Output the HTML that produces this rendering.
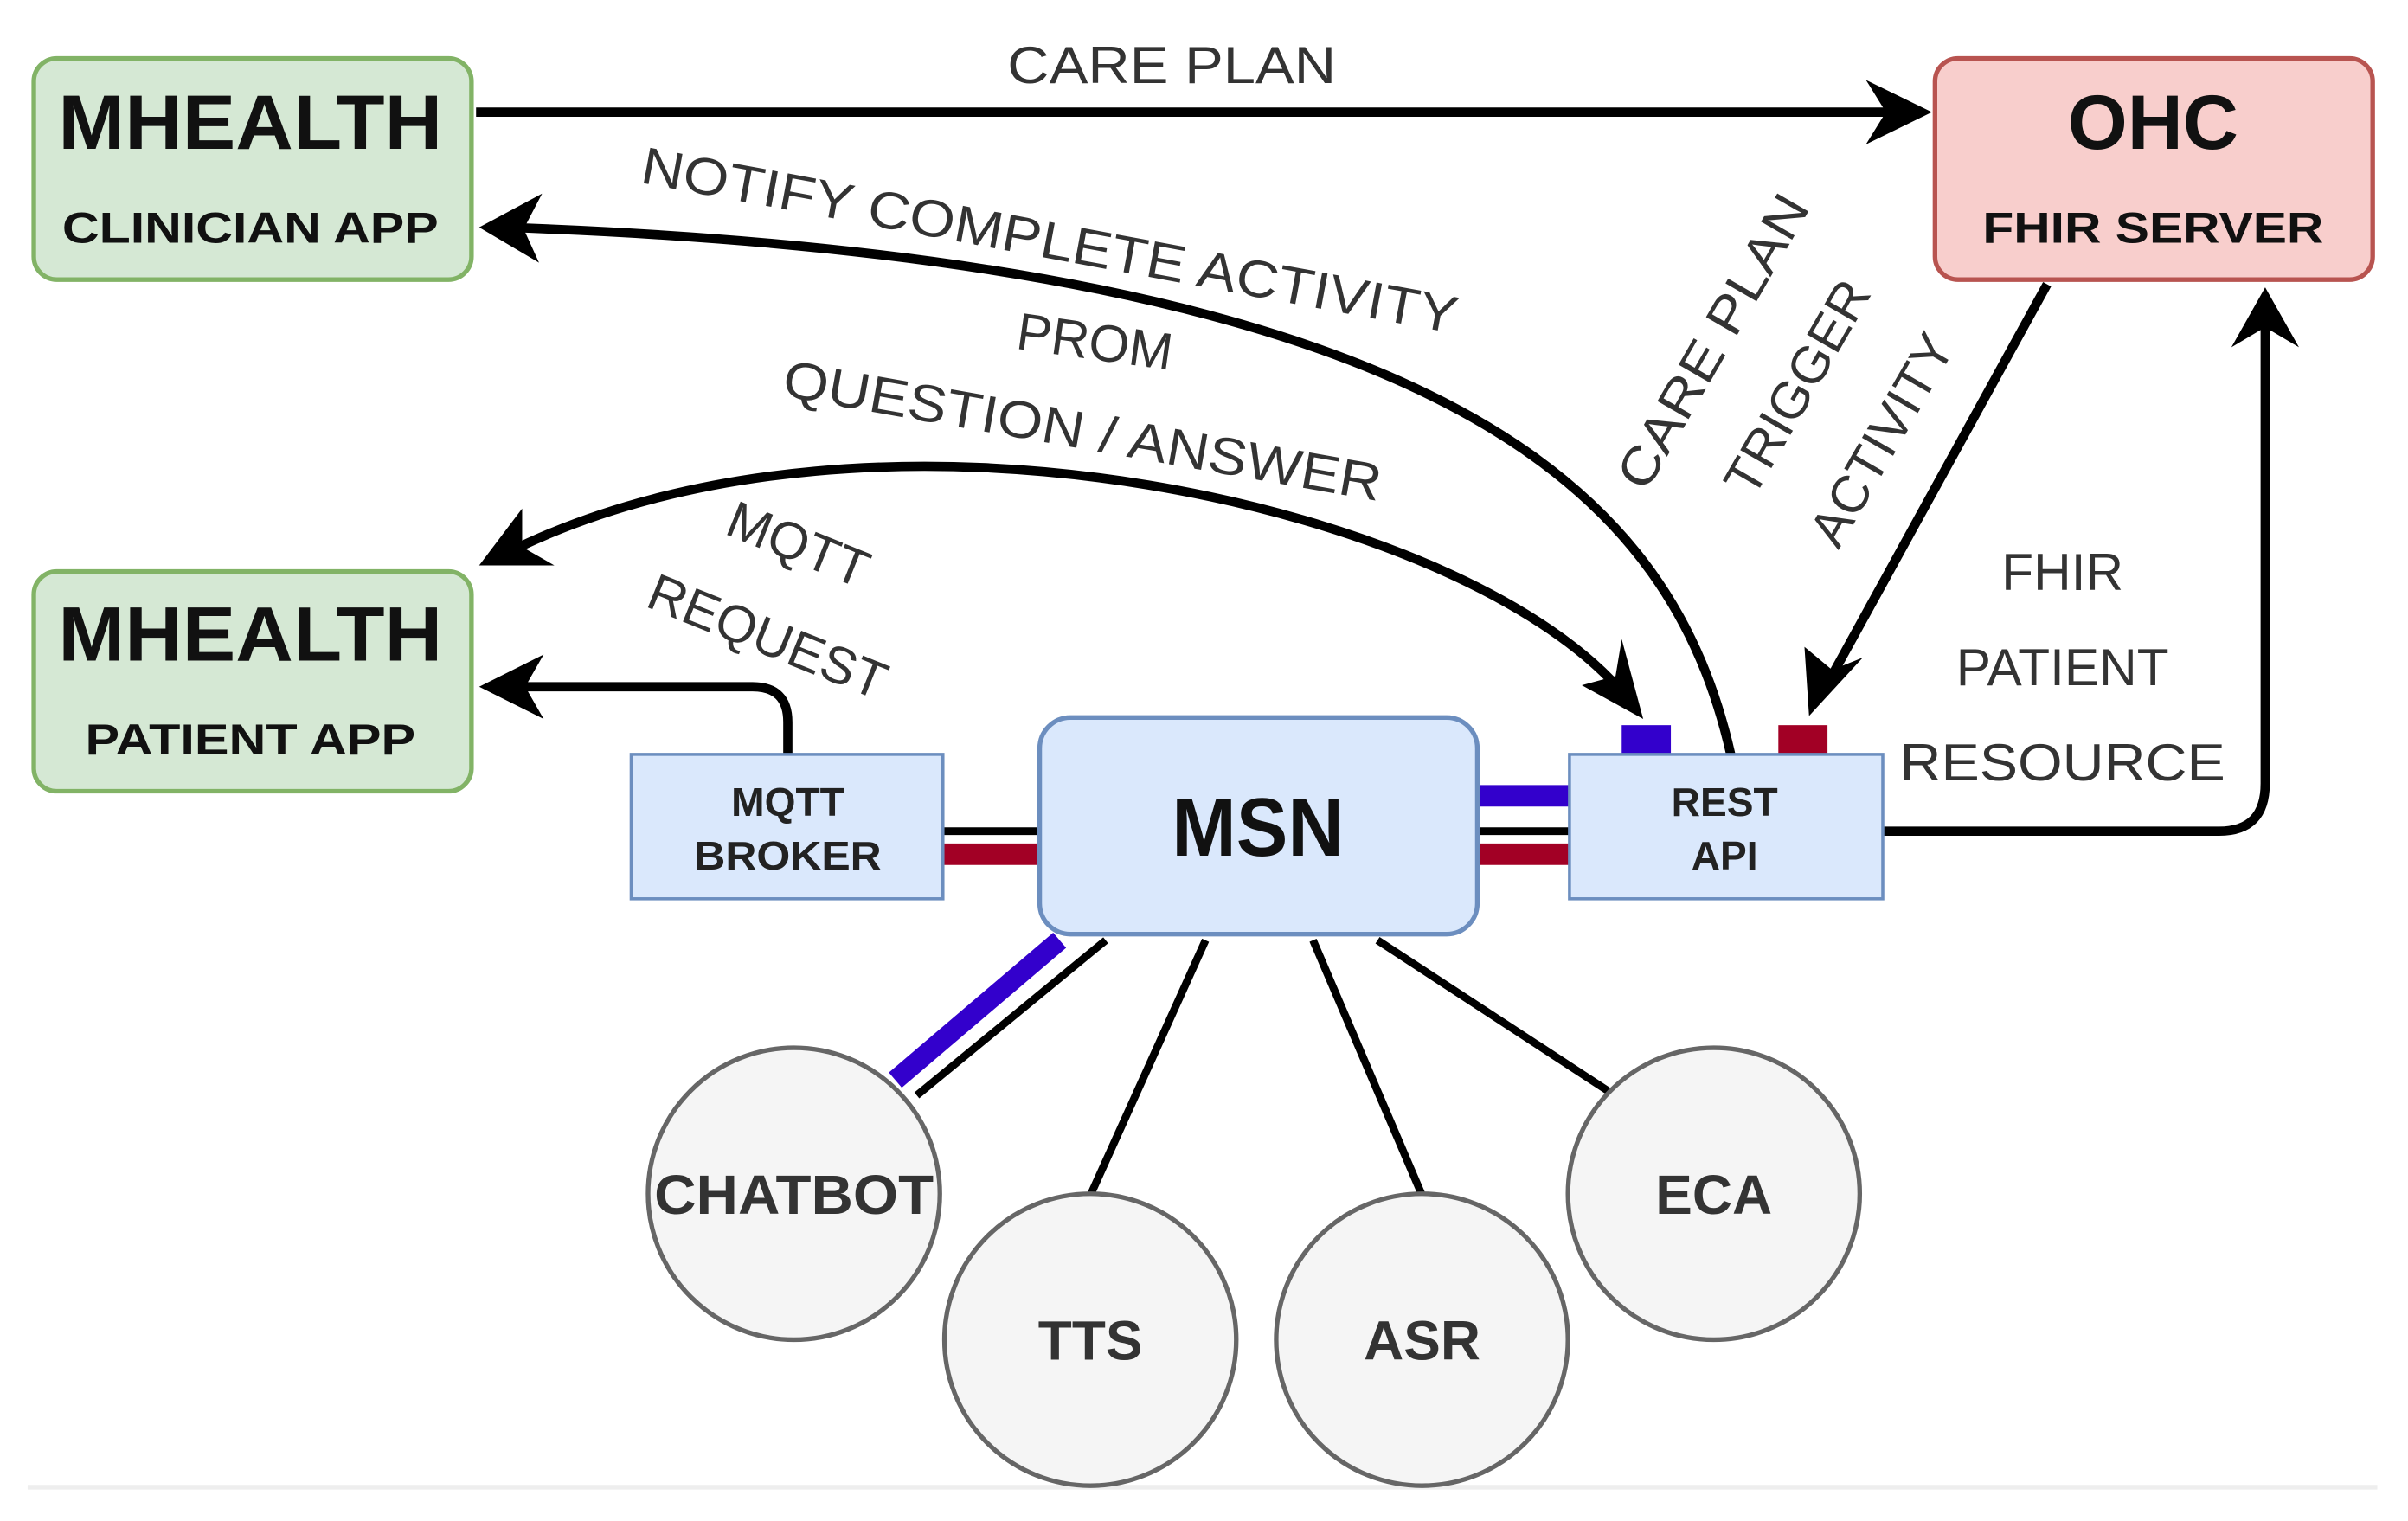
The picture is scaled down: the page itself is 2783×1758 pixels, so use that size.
<!DOCTYPE html>
<html><head><meta charset="utf-8"><style>html,body{margin:0;padding:0;background:#fff}svg{display:block}</style></head>
<body>
<svg width="2783" height="1758" viewBox="0 0 1568 990" preserveAspectRatio="none" xmlns="http://www.w3.org/2000/svg" font-family="Liberation Sans, sans-serif">
<rect width="1568" height="990" fill="#fff"/>
<line x1="18" y1="968" x2="1548" y2="968" stroke="#eee" stroke-width="3"/>

<line x1="690" y1="612" x2="583" y2="703" stroke="#3300cc" stroke-width="13"/>
<line x1="720" y1="612" x2="597" y2="713" stroke="#000" stroke-width="5"/>
<line x1="785" y1="612" x2="710" y2="778" stroke="#000" stroke-width="5"/>
<line x1="855" y1="612" x2="926" y2="778" stroke="#000" stroke-width="5"/>
<line x1="897" y1="612" x2="1050" y2="712" stroke="#000" stroke-width="5"/>

<g fill="#f5f5f5" stroke="#666" stroke-width="3">
<circle cx="517" cy="777" r="95"/>
<circle cx="710" cy="872" r="95"/>
<circle cx="926" cy="872" r="95"/>
<circle cx="1116" cy="777" r="95"/>
</g>
<g font-weight="bold" font-size="36" fill="#333" text-anchor="middle">
<text x="517" y="790" textLength="182" lengthAdjust="spacingAndGlyphs">CHATBOT</text>
<text x="710" y="885">TTS</text>
<text x="926" y="885">ASR</text>
<text x="1116" y="790">ECA</text>
</g>

<line x1="612" y1="541" x2="680" y2="541" stroke="#000" stroke-width="5"/>
<line x1="612" y1="556" x2="680" y2="556" stroke="#a20025" stroke-width="14"/>
<line x1="960" y1="518" x2="1024" y2="518" stroke="#3300cc" stroke-width="14"/>
<line x1="960" y1="541" x2="1024" y2="541" stroke="#000" stroke-width="5"/>
<line x1="960" y1="556" x2="1024" y2="556" stroke="#a20025" stroke-width="14"/>

<rect x="1056" y="472" width="32" height="20" fill="#3300cc"/>
<rect x="1158" y="472" width="32" height="20" fill="#a20025"/>

<g fill="none" stroke="#000" stroke-width="6">
<line x1="310" y1="73" x2="1240" y2="73"/>
<path d="M1127 491 C1090 330 960 170 330 148"/>
<path d="M1060 455 C960 330 570 240 330 360"/>
<path d="M513 491 L513 470 Q513 447 490 447 L330 447"/>
<line x1="1333" y1="185" x2="1190" y2="445"/>
<path d="M1226 541 L1445 541 Q1475 541 1475 510 L1475 205"/>
</g>
<g fill="#000">
<polygon points="1258,73 1215,52 1228,73 1215,94"/>
<polygon points="312,148 353,126 341,149 351,171"/>
<polygon points="312,368 340,331 340,356 361,368"/>
<polygon points="1070,468 1030,446 1052,440 1056,416"/>
<polygon points="312,447 354,426 342,447 354,468"/>
<polygon points="1178,466 1175,421 1193,436 1213,428"/>
<polygon points="1475,187 1453,226 1475,213 1497,226"/>
</g>

<rect x="22" y="38" width="285" height="144" rx="15" fill="#d5e8d4" stroke="#82b366" stroke-width="3"/>
<rect x="1260" y="38" width="285" height="144" rx="15" fill="#f8cecc" stroke="#b85450" stroke-width="3"/>
<rect x="22" y="372" width="285" height="143" rx="15" fill="#d5e8d4" stroke="#82b366" stroke-width="3"/>
<rect x="411" y="491" width="203" height="94" fill="#dae8fc" stroke="#6c8ebf" stroke-width="2"/>
<rect x="677" y="467" width="285" height="141" rx="20" fill="#dae8fc" stroke="#6c8ebf" stroke-width="3"/>
<rect x="1022" y="491" width="204" height="94" fill="#dae8fc" stroke="#6c8ebf" stroke-width="2"/>

<g font-weight="bold" fill="#111" text-anchor="middle">
<text x="163" y="97" font-size="50" textLength="250" lengthAdjust="spacingAndGlyphs">MHEALTH</text>
<text x="163" y="158" font-size="28" textLength="245" lengthAdjust="spacingAndGlyphs">CLINICIAN APP</text>
<text x="1402" y="97" font-size="50">OHC</text>
<text x="1402" y="158" font-size="28" textLength="222" lengthAdjust="spacingAndGlyphs">FHIR SERVER</text>
<text x="163" y="430" font-size="50" textLength="250" lengthAdjust="spacingAndGlyphs">MHEALTH</text>
<text x="163" y="491" font-size="28" textLength="215" lengthAdjust="spacingAndGlyphs">PATIENT APP</text>
<text x="513" y="531" font-size="26" fill="#222">MQTT</text>
<text x="513" y="566" font-size="26" fill="#222" textLength="122" lengthAdjust="spacingAndGlyphs">BROKER</text>
<text x="819" y="557" font-size="54" textLength="112" lengthAdjust="spacingAndGlyphs">MSN</text>
<text x="1123" y="531" font-size="26" fill="#222">REST</text>
<text x="1123" y="566" font-size="26" fill="#222">API</text>
</g>

<g font-size="34" fill="#333" text-anchor="middle">
<text x="763" y="54" textLength="214" lengthAdjust="spacingAndGlyphs">CARE PLAN</text>
<text x="683" y="168" transform="rotate(10.5 683 160)" textLength="540" lengthAdjust="spacingAndGlyphs">NOTIFY COMPLETE ACTIVITY</text>
<text x="713" y="234" transform="rotate(8 713 222)">PROM</text>
<text x="705" y="292" transform="rotate(10 705 280)" textLength="395" lengthAdjust="spacingAndGlyphs">QUESTION / ANSWER</text>
<text x="520" y="366" transform="rotate(22 520 354)">MQTT</text>
<text x="500" y="426" transform="rotate(22 500 414)">REQUEST</text>
<text x="1115" y="234" transform="rotate(-60 1115 222)" textLength="215" lengthAdjust="spacingAndGlyphs">CARE PLAN</text>
<text x="1170" y="264" transform="rotate(-60 1170 252)">TRIGGER</text>
<text x="1225" y="298" transform="rotate(-60 1225 286)">ACTIVITY</text>
<text x="1343" y="384">FHIR</text>
<text x="1343" y="446">PATIENT</text>
<text x="1343" y="508" textLength="212" lengthAdjust="spacingAndGlyphs">RESOURCE</text>
</g>
</svg>
</body></html>
